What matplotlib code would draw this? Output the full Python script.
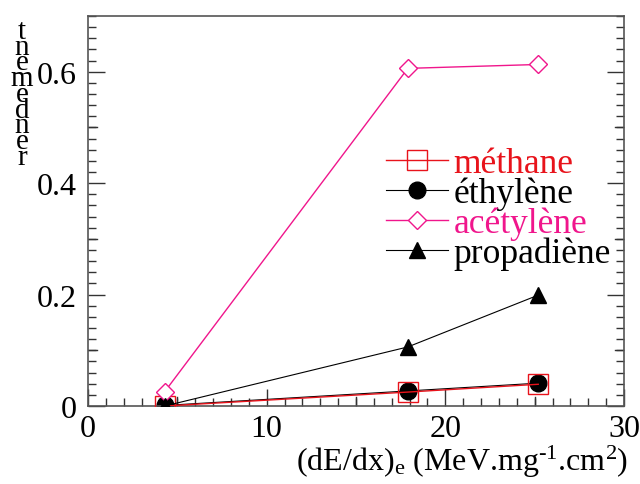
import numpy as np
import matplotlib
matplotlib.use('Agg')
import matplotlib.pyplot as plt
from matplotlib.ticker import MultipleLocator, FuncFormatter

plt.rcParams['font.family'] = 'Liberation Serif'
plt.rcParams['mathtext.fontset'] = 'custom'
plt.rcParams['mathtext.rm'] = 'Liberation Serif'
plt.rcParams['mathtext.it'] = 'Liberation Serif:italic'

### DATA ###
dedx = [4.3, 17.9, 25.2]
methane = [0.0, 0.025, 0.039]
ethylene = [0.001, 0.027, 0.041]
acetylene = [0.026, 0.606, 0.613]
propadiene = [0.0, 0.106, 0.199]
labels = ['méthane', 'éthylène', 'acétylène', 'propadiène']
ylabel = 'rendement'

red = '#e8131b'
pink = '#f0168c'

fig = plt.figure(figsize=(6.4, 4.85), dpi=100)
ax = fig.add_axes([88/640, 1-407/485, 536/640, 390/485])

ax.plot(dedx, methane, color=red, lw=1.0, marker='s', ms=14.4,
        mfc='none', mec=red, mew=1.0, label=labels[0], zorder=3)
ax.plot(dedx, ethylene, color='black', lw=0.8, marker='o', ms=12,
        mfc='black', mec='black', label=labels[1], zorder=2)
ax.plot(dedx, acetylene, color=pink, lw=1.0, marker='D', ms=8.8,
        mfc='white', mec=pink, mew=1.0, label=labels[2], zorder=3)
ax.plot(dedx, propadiene, color='black', lw=0.8, marker='^', ms=12,
        mfc='black', mec='black', label=labels[3], zorder=3)

ax.set_xlim(0, 30)
ax.set_ylim(0, 0.7)
ax.xaxis.set_major_locator(MultipleLocator(10))
ax.xaxis.set_minor_locator(MultipleLocator(1))
ax.yaxis.set_major_locator(MultipleLocator(0.2))
ax.yaxis.set_minor_locator(MultipleLocator(0.02))
ax.xaxis.set_major_formatter(FuncFormatter(lambda v, p: '%g' % v))
ax.yaxis.set_major_formatter(FuncFormatter(lambda v, p: '%g' % v))

ax.tick_params(which='both', direction='in', right=True, top=False,
               labelsize=23, color='#333333', width=1.0)
ax.tick_params(which='major', length=12, pad=8)
ax.tick_params(which='minor', length=6)
ax.tick_params(axis='x', which='major', pad=6)

# medium ticks like ROOT (every 5 on x, every 0.1 on y)
for v in [5, 15, 25]:
    ax.plot([v, v], [0, 0.7*9/390], color='#333333', lw=1.0, zorder=1)
for v in [0.1, 0.3, 0.5]:
    ax.plot([0, 30*9/536], [v, v], color='#333333', lw=1.0, zorder=1)
    ax.plot([30, 30-30*9/536], [v, v], color='#333333', lw=1.0, zorder=1)

for s in ax.spines.values():
    s.set_color('#555555')
    s.set_linewidth(1.2)

leg = ax.legend(loc='upper left', bbox_to_anchor=(0.53, 0.70), frameon=False,
                fontsize=25.5, handlelength=1.75, handletextpad=0.15,
                labelspacing=-0.1, borderaxespad=0)
for t, c in zip(leg.get_texts(), [red, 'black', pink, 'black']):
    t.set_color(c)

fig.text(628/640, 1-462/485,
         '(dE/dx)$_{\\rm e}$ (MeV.mg$^{\\rm \u20101}$.cm$^{\\rm 2}$)',
         ha='right', va='center', fontsize=23)

# stacked y label letters (reversed, unrotated like the original)
letters = ylabel[::-1]
ys = np.linspace(32, 158, len(letters))
for ch, y in zip(letters, ys):
    fig.text(22/640, 1-y/485, ch, ha='center', va='center', fontsize=21)

fig.savefig('out.png', dpi=100)
